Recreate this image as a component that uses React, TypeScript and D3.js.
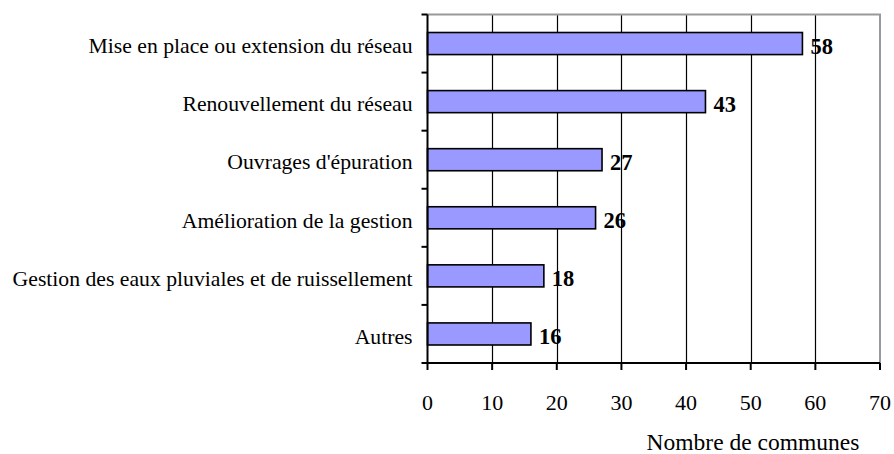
import React, { useEffect, useRef } from 'react';
import * as d3 from 'd3';

const categories = [
  'Mise en place ou extension du réseau',
  'Renouvellement du réseau',
  "Ouvrages d'épuration",
  'Amélioration de la gestion',
  'Gestion des eaux pluviales et de ruissellement',
  'Autres',
];
const values = [58, 43, 27, 26, 18, 16];
const xTicks = [0, 10, 20, 30, 40, 50, 60, 70];
const xTitle = 'Nombre de communes';

const App = () => {
  const ref = useRef<SVGSVGElement | null>(null);

  useEffect(() => {
    if (!ref.current) return;
    const width = 894;
    const height = 454;
    const left = 427.5;
    const right = 880;
    const top = 14.5;
    const bottom = 363;
    const font = '"Liberation Serif", "Times New Roman", serif';

    const svg = d3.select(ref.current);
    svg.selectAll('*').remove();
    svg.attr('width', width).attr('height', height);

    const x = d3.scaleLinear().domain([0, 70]).range([left, right]);
    const y = d3.scaleBand<string>()
      .domain(categories)
      .range([top, bottom])
      .paddingInner(0.62)
      .paddingOuter(0.31);
    const step = (bottom - top) / categories.length;

    // grid lines
    svg.append('g')
      .selectAll('line')
      .data(xTicks.filter(t => t > 0 && t < 70))
      .join('line')
      .attr('x1', d => Math.round(x(d)) + 0.5).attr('x2', d => Math.round(x(d)) + 0.5)
      .attr('y1', top).attr('y2', bottom)
      .attr('stroke', '#000')
      .attr('stroke-width', 1.2);

    // top / right frame
    svg.append('path')
      .attr('d', `M${left},${top}H${right}V${bottom}`)
      .attr('fill', 'none')
      .attr('stroke', '#999')
      .attr('stroke-width', 2);

    // bars
    svg.append('g')
      .selectAll('rect')
      .data(values)
      .join('rect')
      .attr('x', x(0))
      .attr('y', (d, i) => y(categories[i])!)
      .attr('width', d => x(d) - x(0))
      .attr('height', y.bandwidth())
      .attr('fill', '#9999FF')
      .attr('stroke', '#000')
      .attr('stroke-width', 1.6);

    // value labels
    svg.append('g')
      .selectAll('text')
      .data(values)
      .join('text')
      .attr('x', d => x(d) + 8)
      .attr('y', (d, i) => y(categories[i])! + y.bandwidth() / 2)
      .attr('dy', '0.45em')
      .style('font-family', font)
      .style('font-size', '22.5px')
      .style('font-weight', 'bold')
      .text(d => d);

    // category labels
    svg.append('g')
      .selectAll('text')
      .data(categories)
      .join('text')
      .attr('x', left - 15)
      .attr('y', d => y(d)! + y.bandwidth() / 2)
      .attr('dy', '0.45em')
      .attr('text-anchor', 'end')
      .style('font-family', font)
      .style('font-size', '21.7px')
      .text(d => d);

    // left axis + ticks at band edges
    svg.append('line')
      .attr('x1', left).attr('x2', left)
      .attr('y1', top).attr('y2', bottom)
      .attr('stroke', '#000').attr('stroke-width', 2);
    svg.append('g')
      .selectAll('line')
      .data(d3.range(categories.length + 1))
      .join('line')
      .attr('x1', left - 6).attr('x2', left)
      .attr('y1', i => top + i * step).attr('y2', i => top + i * step)
      .attr('stroke', '#000').attr('stroke-width', 2);

    // bottom axis
    svg.append('line')
      .attr('x1', left).attr('x2', right)
      .attr('y1', bottom).attr('y2', bottom)
      .attr('stroke', '#000').attr('stroke-width', 2);
    svg.append('g')
      .selectAll('line')
      .data(xTicks)
      .join('line')
      .attr('x1', d => x(d)).attr('x2', d => x(d))
      .attr('y1', bottom).attr('y2', bottom + 7)
      .attr('stroke', '#000').attr('stroke-width', 2);
    svg.append('g')
      .selectAll('text')
      .data(xTicks)
      .join('text')
      .attr('x', d => x(d))
      .attr('y', 410)
      .attr('text-anchor', 'middle')
      .style('font-family', font)
      .style('font-size', '22px')
      .text(d => d);

    svg.append('text')
      .attr('x', 753)
      .attr('y', 450)
      .attr('text-anchor', 'middle')
      .style('font-family', font)
      .style('font-size', '23.5px')
      .text(xTitle);
  }, []);

  return (
    <svg ref={ref} style={{ position: 'absolute', left: 0, top: 0, background: '#fff' }} />
  );
};

export default App;
